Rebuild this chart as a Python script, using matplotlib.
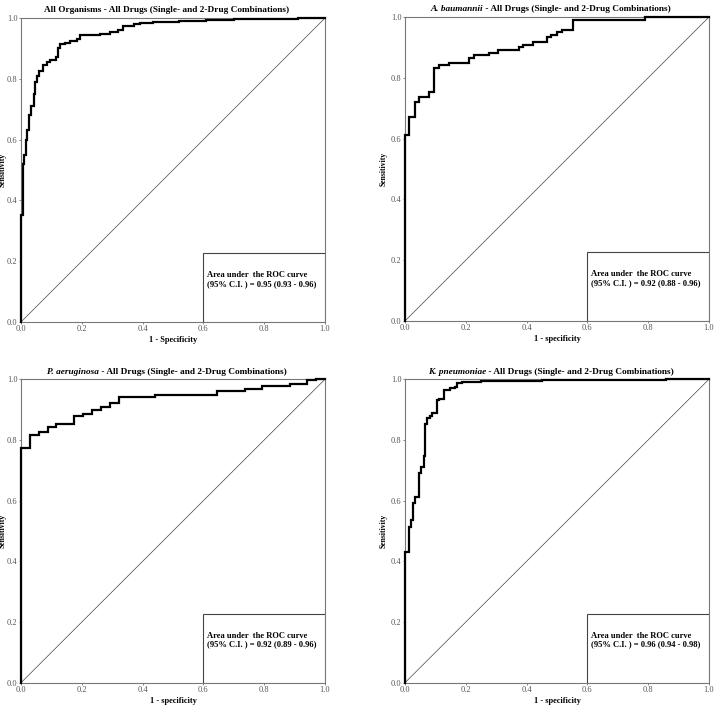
import numpy as np
import matplotlib
matplotlib.use("Agg")
import matplotlib.pyplot as plt
from matplotlib.offsetbox import TextArea, HPacker, AnchoredOffsetbox
from matplotlib.patches import Rectangle

plt.rcParams['font.family'] = ['Liberation Serif', 'DejaVu Serif']

# --- ROC curve vertices (1 - specificity, sensitivity) ---
all_fpr = [0.0, 0.0, 0.008, 0.011, 0.015, 0.019, 0.026, 0.033, 0.042, 0.047, 0.054,
           0.059, 0.073, 0.084, 0.095, 0.115, 0.123, 0.128, 0.145, 0.161, 0.183,
           0.194, 0.26, 0.293, 0.32, 0.337, 0.37, 0.39, 0.435, 0.52, 0.61, 0.70,
           0.81, 0.91, 1.0]
all_tpr = [0.0, 0.353, 0.52, 0.55, 0.60, 0.63, 0.68, 0.71, 0.75, 0.79, 0.81,
           0.825, 0.845, 0.855, 0.862, 0.87, 0.90, 0.913, 0.918, 0.925, 0.93,
           0.943, 0.948, 0.955, 0.96, 0.975, 0.98, 0.985, 0.988, 0.99, 0.993, 0.995,
           0.997, 1.0, 1.0]

ab_fpr = [0.0, 0.0, 0.014, 0.032, 0.047, 0.080, 0.096, 0.113, 0.144, 0.209, 0.228,
          0.275, 0.306, 0.374, 0.387, 0.42, 0.467, 0.481, 0.501, 0.516, 0.552,
          0.79, 1.0]
ab_tpr = [0.0, 0.612, 0.67, 0.722, 0.738, 0.752, 0.831, 0.842, 0.849, 0.865, 0.875,
          0.882, 0.892, 0.901, 0.909, 0.917, 0.933, 0.941, 0.95, 0.958, 0.991,
          1.0, 1.0]

pa_fpr = [0.0, 0.0, 0.0285, 0.058, 0.089, 0.116, 0.174, 0.204, 0.233, 0.264, 0.294,
          0.322, 0.44, 0.646, 0.736, 0.794, 0.884, 0.941, 0.971, 1.0]
pa_tpr = [0.0, 0.775, 0.816, 0.825, 0.844, 0.852, 0.878, 0.886, 0.90, 0.908, 0.921,
          0.941, 0.947, 0.962, 0.969, 0.977, 0.985, 0.997, 1.0, 1.0]

kp_fpr = [0.0, 0.0, 0.014, 0.021, 0.027, 0.034, 0.047, 0.054, 0.061, 0.067, 0.073,
          0.081, 0.089, 0.106, 0.113, 0.129, 0.149, 0.163, 0.171, 0.188, 0.25,
          0.40, 0.45, 0.86, 1.0]
kp_tpr = [0.0, 0.432, 0.514, 0.536, 0.591, 0.613, 0.69, 0.712, 0.747, 0.852, 0.871,
          0.88, 0.888, 0.932, 0.935, 0.963, 0.97, 0.976, 0.989, 0.99, 0.993,
          0.995, 0.997, 1.0, 1.0]

titles_it = ["", "A. baumannii", "P. aeruginosa", "K. pneumoniae"]
titles_rest = ["All Organisms - All Drugs (Single- and 2-Drug Combinations)",
               " - All Drugs (Single- and 2-Drug Combinations)",
               " - All Drugs (Single- and 2-Drug Combinations)",
               " - All Drugs (Single- and 2-Drug Combinations)"]
xlabels = ["1 - Specificity", "1 - specificity", "1 - specificity", "1 - specificity"]
auc_txt = ["0.95 (0.93 - 0.96)", "0.92 (0.88 - 0.96)",
           "0.92 (0.89 - 0.96)", "0.96 (0.94 - 0.98)"]
ticks = [0.0, 0.2, 0.4, 0.6, 0.8, 1.0]

curves = [(all_fpr, all_tpr), (ab_fpr, ab_tpr), (pa_fpr, pa_tpr), (kp_fpr, kp_tpr)]

fig = plt.figure(figsize=(7.15, 7.05), dpi=100)
positions = [[0.0294, 0.5433, 0.4252, 0.4312],
             [0.5664, 0.5447, 0.4252, 0.4312],
             [0.0294, 0.0316, 0.4252, 0.4305],
             [0.5664, 0.0316, 0.4252, 0.4305]]
ylab_x = [-0.047, -0.056, -0.047, -0.056]

for i, pos in enumerate(positions):
    ax = fig.add_axes(pos)
    fpr, tpr = curves[i]
    ax.plot([0, 1], [0, 1], color='#444444', lw=0.5)
    ax.plot(fpr, tpr, color='black', lw=1.6, drawstyle='steps-post',
            solid_joinstyle='miter', clip_on=False, zorder=5)
    ax.set_xlim(0, 1)
    ax.set_ylim(0, 1)
    ax.set_xticks(ticks)
    ax.set_yticks(ticks)
    ax.set_xticklabels([f"{t:.1f}" for t in ticks])
    ax.set_yticklabels([f"{t:.1f}" for t in ticks])
    ax.tick_params(labelsize=6, colors='#555555', length=1.5, width=0.5, pad=1)
    for s in ax.spines.values():
        s.set_color('#777777')
        s.set_linewidth(0.8)
    ax.set_xlabel(xlabels[i], fontsize=6, fontweight='bold', labelpad=2)
    ax.set_ylabel("Sensitivity", fontsize=5.5, fontweight='bold')
    ax.yaxis.set_label_coords(ylab_x[i], 0.5)

    # AUC box in the lower right corner
    ax.add_patch(Rectangle((0.6, 0.0), 0.4, 0.227, fill=True, facecolor='white',
                           edgecolor='#444444', lw=0.8, zorder=3))
    ax.text(0.612, 0.14, "Area under  the ROC curve\n(95% C.I. ) = " + auc_txt[i],
            fontsize=6.1, fontweight='bold', va='center', ha='left', zorder=4,
            linespacing=1.15)

    # title: italic species name + bold rest
    parts = []
    if titles_it[i]:
        parts.append(TextArea(titles_it[i], textprops=dict(fontsize=6.7, fontweight='bold',
                                                           fontstyle='italic')))
    parts.append(TextArea(titles_rest[i], textprops=dict(fontsize=6.7, fontweight='bold')))
    box = HPacker(children=parts, align='baseline', pad=0, sep=0)
    anch = AnchoredOffsetbox(loc='lower center', child=box, pad=0, frameon=False,
                             bbox_to_anchor=(0.48, 1.012), bbox_transform=ax.transAxes,
                             borderpad=0)
    ax.add_artist(anch)

fig.savefig("out.png", dpi=100)
